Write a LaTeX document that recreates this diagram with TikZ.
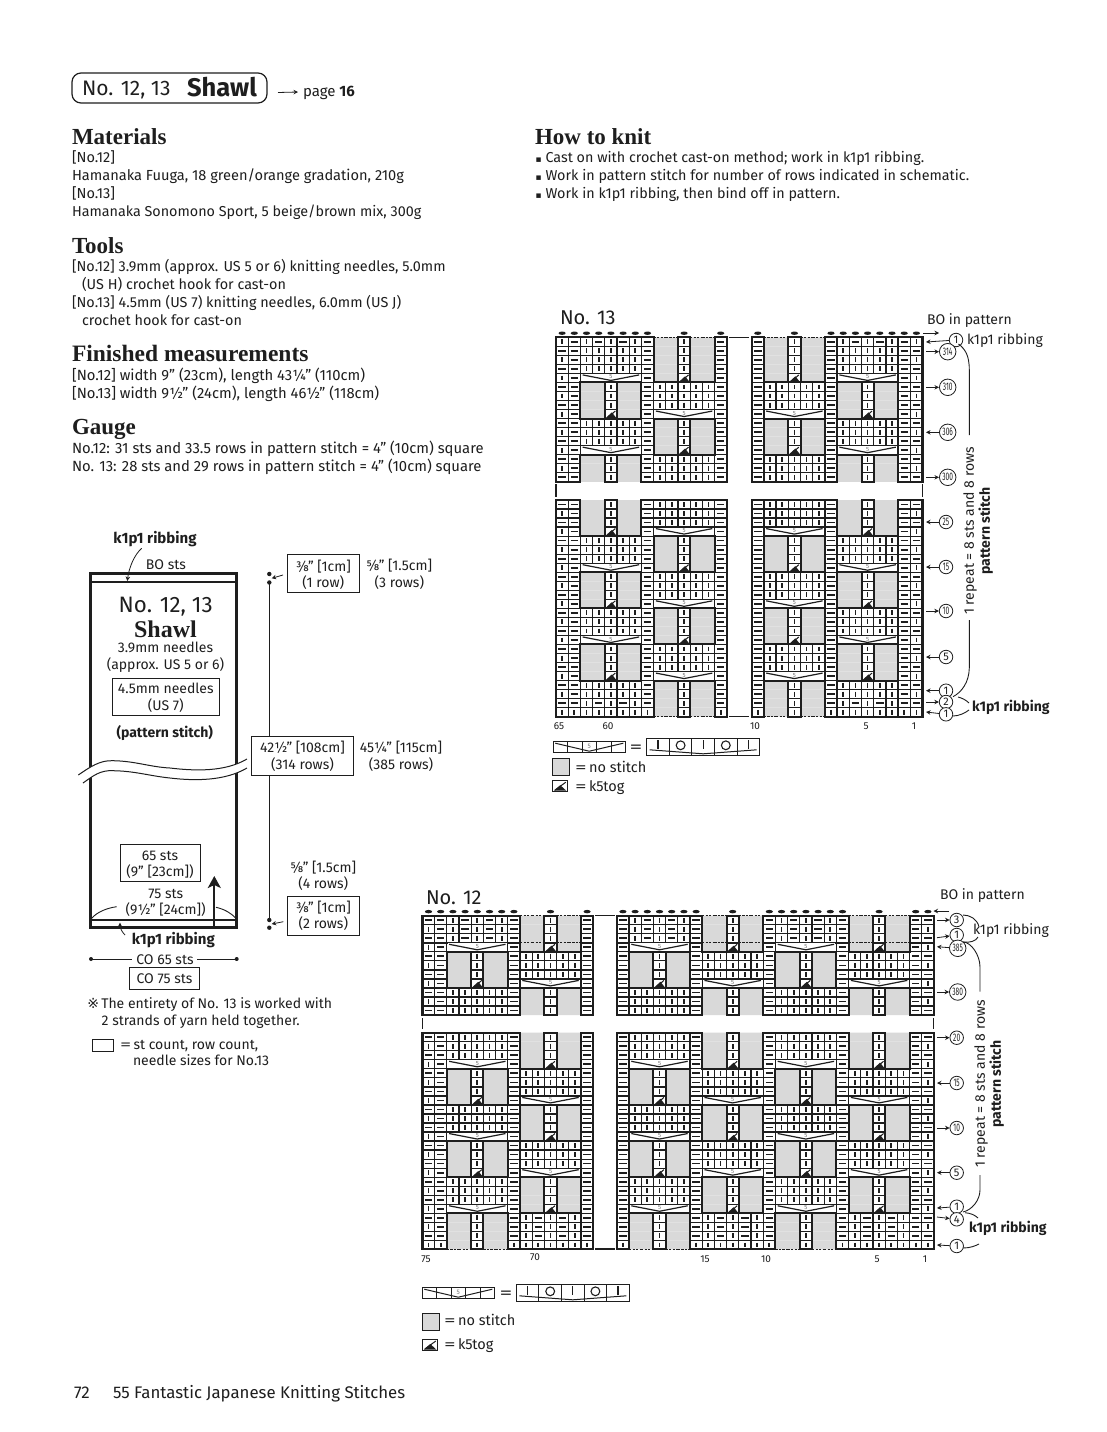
\documentclass[tikz,border=0pt]{standalone}
\usepackage{fontspec}
\usepackage{graphicx}
\usetikzlibrary{arrows.meta}
\setmainfont{Fira Sans}
\newfontfamily\hdf{Liberation Serif}
\newfontfamily\symf{DejaVu Sans}
\definecolor{ink}{HTML}{1E1E1E}
\definecolor{kgray}{HTML}{D9D9D9}
\definecolor{fivegray}{HTML}{777777}
% ---------- chart engine ----------
\newdimen\cxd \newdimen\cyd \newdimen\stW \newdimen\stH
\newcount\rowc
\newif\ifkT \newif\ifkB
\def\WA{12.2}\def\WH{6.1}\def\WB{24.4}\def\WC{36.6}\def\WV{61}\def\WM{30.5}\def\HA{9.03}
\stW=12.2pt \stH=9.03pt
\def\PT#1#2{\pgfqpoint{\dimexpr\cxd+#1pt\relax}{\dimexpr\cyd-#2pt\relax}}
\def\Mv#1#2{\pgfpathmoveto{\PT{#1}{#2}}}
\def\Lt#1#2{\pgfpathlineto{\PT{#1}{#2}}}
\def\Rct{\Mv{0}{0}\Lt{\WA}{0}\Lt{\WA}{\HA}\Lt{0}{\HA}\pgfpathclose}
\def\cI{\doI\advance\cxd by\stW}
\def\cm{\dom\advance\cxd by\stW}
\def\cg{\dog\advance\cxd by\stW}
\def\ck{\dok\advance\cxd by\stW}
\def\cd{\advance\cxd by\stW}
\def\cS{\cI\cI\cI\cI\cI}
\def\cR{\cI\cm\cI\cm\cI}
\def\cG{\doUG\cg\cg\cI\cg\cg}
\def\cK{\doUK\cg\cg\ck\cg\cg}
\def\cD{\doUD\cd\cd\cd\cd\cd}
\def\parseR#1{\ifx#1\relax\else\csname c#1\endcsname\expandafter\parseR\fi}
\def\Rw#1{\cxd=\kxv pt\relax \kTfalse\kBfalse
  \ifnum\rowc=0 \kTtrue\fi
  \ifnum\rowc=\kdC\relax\kTtrue\fi
  \ifnum\rowc=\kLast\relax\kBtrue\fi
  \parseR#1\relax \kUse
  \advance\cyd by-\stH \advance\rowc by1 }
\def\LF#1#2{\Rw{mm#1}\Rw{Im#1}\Rw{mm#1}\Rw{Im#2}}
\def\RF#1#2{\Rw{#1mm}\Rw{#1mI}\Rw{#1mm}\Rw{#2mI}}
\def\kNone{\let\doI\relax\let\dom\relax\let\dog\relax\let\dok\relax
  \let\doUG\relax\let\doUK\relax\let\doUD\relax}
\def\kVerts{\Mv{0}{0}\Lt{0}{\HA}\Mv{\WB}{0}\Lt{\WB}{\HA}\Mv{\WC}{0}\Lt{\WC}{\HA}\Mv{\WV}{0}\Lt{\WV}{\HA}}
\def\kEdgeLines{\ifkT\Mv{0}{0}\Lt{\WA}{0}\fi\ifkB\Mv{0}{\HA}\Lt{\WA}{\HA}\fi}
\def\kRun{\rowc=0 \cyd=-\kyv pt\relax \krows}
\newcommand\KBlock[8]{%
  \def\kxv{#1}\def\kyv{#2}\edef\kLast{\the\numexpr#4-1\relax}%
  \def\kdA{#5}\def\kdB{#6}\def\kdC{#7}\def\krows{#8}%
  % gray
  \begin{pgfscope}\kNone\pgfsetfillcolor{kgray}\let\dog\Rct\def\kUse{\pgfusepath{fill}}\kRun\end{pgfscope}%
  % dashed edges of gray
  \begin{pgfscope}\kNone\pgfsetlinewidth{1.1pt}\pgfsetdash{{2.2pt}{1.3pt}}{0pt}%
    \def\dog{\ifnum\rowc=\kdA\relax\Mv{0}{0}\Lt{\WA}{0}\fi\ifnum\rowc=\kdC\relax\Mv{0}{0}\Lt{\WA}{0}\fi\ifnum\rowc=\kdB\relax\Mv{0}{\HA}\Lt{\WA}{\HA}\fi}%
    \def\kUse{\pgfusepath{stroke}}\kRun\end{pgfscope}%
  % grid
  \begin{pgfscope}\kNone\pgfsetlinewidth{1.25pt}\let\doI\Rct\let\dom\Rct\let\dok\Rct\def\kUse{\pgfusepath{stroke}}\kRun\end{pgfscope}%
  % marks
  \begin{pgfscope}\kNone\pgfsetlinewidth{1.7pt}%
    \def\doI{\Mv{\WH}{2.1}\Lt{\WH}{7}}\def\dom{\Mv{2.4}{4.5}\Lt{9.8}{4.5}}%
    \def\kUse{\pgfusepath{stroke}}\kRun\end{pgfscope}%
  % k5tog
  \begin{pgfscope}\kNone\pgfsetlinewidth{1pt}%
    \def\dok{\Mv{1.5}{8.6}\Lt{7}{3.6}\Lt{11}{8.6}\pgfpathclose\Mv{2.5}{8.5}\Lt{10.5}{1.5}}%
    \def\kUse{\pgfusepath{fill,stroke}}\kRun\end{pgfscope}%
  % thick
  \begin{pgfscope}\kNone\pgfsetlinewidth{2pt}\pgfsetrectcap
    \let\doI\kEdgeLines\let\dom\kEdgeLines\let\dok\kEdgeLines
    \let\doUG\kVerts\def\doUK{\kVerts\Mv{0}{\HA}\Lt{\WV}{\HA}}\def\doUD{\Mv{0}{\HA}\Lt{\WV}{\HA}}%
    \def\kUse{\pgfusepath{stroke}}\kRun
  \end{pgfscope}%
  % decrease
  \begin{pgfscope}\kNone\pgfsetlinewidth{1.2pt}\let\kUse\relax
    \def\doUD{\Mv{2.3}{1.5}\Lt{\WM}{7}\Lt{58.7}{1.5}\pgfusepath{stroke}%
      \pgftext[at={\PT{\WM}{3.6}}]{\color{fivegray}\fontsize{6}{6}\selectfont 5}}%
    \kRun\end{pgfscope}%
  % bind-off dots
  \begin{pgfscope}\kNone
    \def\kDot{\ifnum\rowc=\kdA\relax\ifnum\kdA=0 \pgfpathellipse{\PT{\WH}{-4.1}}{\pgfqpoint{3.6pt}{0pt}}{\pgfqpoint{0pt}{1.7pt}}\fi\fi}%
    \let\doI\kDot\let\dom\kDot\def\kUse{\pgfusepath{fill}}\kRun\end{pgfscope}%
  % outer sides
  \KSides{#1}{#2}{#3}{#4}}
\newcommand\KSides[4]{\begin{scope}[line width=2.4]
  \draw ({#1},{#2}) -- ({#1},{#2+#4*9.03});
  \draw ({#1+#3*12.2},{#2}) -- ({#1+#3*12.2},{#2+#4*9.03});\end{scope}}
% ---------- helpers ----------
\tikzset{
  tx/.style={inner sep=0pt,outer sep=0pt,font=\fontsize{#1}{#1}\selectfont,text height={0.7*#1pt},text depth=0pt},
  tipar/.style={-{Stealth[length=4.5pt,width=4.5pt]},line width=.8},
  rcn/.style={draw,circle,inner sep=0pt,minimum size=13.5pt,line width=.8,font=\fontsize{11}{11}\selectfont,fill=white},
  rcw/.style={rcn,minimum size=16.5pt},
  boxl/.style={line width=1},
  thinl/.style={line width=.9}
}
\newcommand\TL[4]{\node[tx=#1,anchor=west] (#2) at (#3) {#4};}
\newcommand\TC[4]{\node[tx=#1] (#2) at (#3) {#4};}
\newcommand\Squash[1]{\scalebox{.6}[1]{#1}}
\newcommand\WideEq{\scalebox{1.6}[1]{=}}
\newcommand\Bul{\makebox[10pt][l]{\symf\fontsize{9}{9}\selectfont ▪}}
\newcommand\RowOut[5][rcn]{\node[#1] (#2) at (#3) {#4}; \coordinate (#2e) at (#5); \draw[tipar] (#2e) -- (#2);}
\newcommand\RowIn[5][rcn]{\node[#1] (#2) at (#3) {#4}; \coordinate (#2e) at (#5); \draw[tipar] (#2) -- (#2e);}
\newcommand\DecLegend[2]{\begin{scope}[shift={(#1)}]
  \draw[boxl] (0,0) rectangle (72,11);
  \foreach \k in {14.4,28.8,43.2,57.6} \draw[line width=.8] (\k,0) -- (\k,11);
  \draw[line width=1] (2,1.5) -- (36,9.5) -- (70,1.5);
  \node[inner sep=0pt,font=\fontsize{6.5}{6.5}\selectfont,text=fivegray] (#2) at (36,5) {5};
\end{scope}}
\newcommand\StitchBox[2]{\begin{scope}[shift={(#1)}]
  \draw[boxl] (0,0) rectangle (113,17);
  \foreach \k in {22.6,45.2,67.8,90.4} \draw[line width=1] (\k,0) -- (\k,17);
  \foreach \k in {11.3,56.5,101.7} \draw[line width=1.1] (\k,2) -- (\k,#2);
  \foreach \k in {33.9,79.1} \draw[line width=1.1] (\k,7) circle (4.4);
  \draw[line width=1] (3,11.5) -- (56.5,15.5) -- (110,11.5);
\end{scope}}
\newcommand\GrayLegend[1]{\draw[boxl,fill=kgray] (#1) rectangle +(16.7,16.7);}
\newcommand\KLegend[1]{\begin{scope}[shift={(#1)}]
  \draw[boxl] (0,0) rectangle (15.5,11);
  \fill (1.5,10) -- (8,4.5) -- (14,10) -- cycle;
  \draw[line width=1] (2.5,9.5) -- (13.5,1.5);
\end{scope}}
\begin{document}
\begin{tikzpicture}[x=1pt,y=-1pt,color=ink]
\useasboundingbox (0,0) rectangle (1107,1432);
\fill[white] (0,0) rectangle (1107,1432);
% ---------- header ----------
\draw[rounded corners=9,line width=1.2] (72,73) rectangle (267,103);
\TL{21}{hA}{82,88}{No. 12, 13}
\TL{25.5}{hB}{187,87.5}{\bfseries Shawl}
\coordinate (hC) at (278,92.5); \coordinate (hD) at (298,92);
\draw[tipar] (hC) -- (hD);
\TL{15}{hE}{303,91}{page \textbf{16}}
% ---------- left text ----------
\TL{23}{m0}{72,136.5}{\hdf\bfseries Materials}
\TL{14.5}{m1}{72,157.5}{[No.12]}
\TL{14.6}{m2}{72,175.5}{Hamanaka Fuuga, 18 green/orange gradation, 210g}
\TL{14.5}{m3}{72,193.5}{[No.13]}
\TL{14.35}{m4}{72,211.5}{Hamanaka Sonomono Sport, 5 beige/brown mix, 300g}
\TL{23}{t0}{72,245.5}{\hdf\bfseries Tools}
\TL{14.4}{t1}{72,266}{[No.12] 3.9mm (approx. US 5 or 6) knitting needles, 5.0mm}
\TL{14.4}{t2}{82,284}{(US H) crochet hook for cast-on}
\TL{14.4}{t3}{72,302}{[No.13] 4.5mm (US 7) knitting needles, 6.0mm (US J)}
\TL{14.4}{t4}{82,320}{crochet hook for cast-on}
\TL{23.5}{f0}{72,353.5}{\hdf\bfseries Finished measurements}
\TL{14.8}{f1}{72,375}{[No.12] width 9" (23cm), length 43¼" (110cm)}
\TL{14.8}{f2}{72,393}{[No.13] width 9½" (24cm), length 46½" (118cm)}
\TL{23}{g0}{72,426.5}{\hdf\bfseries Gauge}
\TL{14.8}{g1}{72,448}{No.12: 31 sts and 33.5 rows in pattern stitch = 4" (10cm) square}
\TL{14.8}{g2}{72,466}{No. 13: 28 sts and 29 rows in pattern stitch = 4" (10cm) square}
\TL{23}{h0}{535,136.5}{\hdf\bfseries How to knit}
\TL{14.35}{h1}{535.5,157}{\Bul Cast on with crochet cast-on method; work in k1p1 ribbing.}
\TL{14.35}{h2}{535.5,175}{\Bul Work in pattern stitch for number of rows indicated in schematic.}
\TL{14.35}{h3}{535.5,193}{\Bul Work in k1p1 ribbing, then bind off in pattern.}
% ---------- schematic ----------
\draw[line width=1] (269.3,582) -- (269.3,920);
\foreach \nm/\py in {da/574,db/582.5,dc/920,dd/927.7} \fill (269.3,\py) circle (2.2);
\draw[line width=3] (90.7,573.3) -- (236.7,573.3);
\draw[line width=3] (90.7,927.7) -- (236.7,927.7);
\draw[line width=3] (90.7,572) -- (90.7,929);
\draw[line width=3] (236.7,572) -- (236.7,929);
\draw[line width=2] (90.7,581.7) -- (236.7,581.7);
\draw[line width=2] (90.7,920) -- (236.7,920);
\fill[white] (78.3,775) .. controls (90,767) and (100,760) .. (113,760.7) .. controls (135,761) and (150,767) .. (170,768) .. controls (195,771) and (225,772) .. (247,759)
  -- (247,768) .. controls (225,781) and (195,781) .. (170,778) .. controls (150,776) and (135,771) .. (113,770.7) .. controls (100,770) and (93,776) .. (83,783) -- cycle;
\draw[line width=1] (78.3,775) .. controls (90,767) and (100,760) .. (113,760.7) .. controls (135,761) and (150,767) .. (170,768) .. controls (195,771) and (225,772) .. (247,759);
\draw[line width=1] (83,783) .. controls (93,776) and (100,770) .. (113,770.7) .. controls (135,771) and (150,776) .. (170,778) .. controls (195,781) and (225,781) .. (247,768);
\TC{15}{sa}{155,538.7}{\bfseries k1p1 ribbing}
\TC{14}{sb}{166,564.7}{BO sts}
\coordinate (sc) at (141.7,548.3); \coordinate (sd) at (127.3,581);
\draw[tipar] (sc) .. controls (134,555) and (129,568) .. (sd);
\TC{22.3}{se}{165.7,605}{No. 12, 13}
\TC{24}{sf}{165.5,629}{\hdf\bfseries Shawl}
\TC{14}{sg}{165.5,648}{3.9mm needles}
\TC{14}{sh}{165.5,664.5}{(approx. US 5 or 6)}
\draw[boxl] (112.3,678.7) rectangle (219.3,715.3);
\TC{14}{si}{165.8,689}{4.5mm needles}
\TC{14}{sj}{165.8,705.5}{(US 7)}
\TC{14}{sk}{164.7,733}{\bfseries (pattern stitch)}
\draw[boxl,fill=white] (287.7,554) rectangle (359,592.7);
\TC{14}{la}{323.3,566.7}{⅜" [1cm]}
\TC{14}{lb}{323.3,582.7}{(1 row)}
\TC{14}{lc}{399.3,566}{⅝" [1.5cm]}
\TC{14}{ld}{399.3,583}{(3 rows)}
\coordinate (le) at (283,575); \coordinate (lf) at (271.7,578.3);
\draw[tipar] (le) -- (lf);
\draw[boxl,fill=white] (251.7,736.7) rectangle (353.3,775);
\TC{14}{na}{302.5,748}{42½" [108cm]}
\TC{14}{nb}{302.5,764.7}{(314 rows)}
\TC{14}{nc}{401,748}{45¼" [115cm]}
\TC{14}{nd}{401,764.7}{(385 rows)}
\TC{14}{oa}{323.3,867.7}{⅝" [1.5cm]}
\TC{14}{ob}{323.3,884}{(4 rows)}
\draw[boxl,fill=white] (287.7,896) rectangle (359,935);
\TC{14}{oc}{323.3,908}{⅜" [1cm]}
\TC{14}{od}{323.3,924}{(2 rows)}
\coordinate (oe) at (283.3,921.7); \coordinate (of) at (271.7,924);
\draw[tipar] (oe) -- (of);
\draw[boxl] (120.3,844) rectangle (200,881.7);
\TC{14}{pa}{160,855.7}{65 sts}
\TC{14}{pb}{160,871.7}{(9" [23cm])}
\TC{14}{pc}{165.7,893.7}{75 sts}
\TC{14}{pd}{165.7,910}{(9½" [24cm])}
\draw[thinl] (91.7,918.3) .. controls (97,912) and (107,908) .. (116.7,906.7);
\draw[thinl] (216,907.3) .. controls (224,909) and (231,913) .. (235.7,918);
\coordinate (pe) at (214.3,926.7); \coordinate (pf) at (214.3,876);
\draw[line width=2.2,-{Stealth[length=12pt,width=13pt,inset=3pt]}] (pe) -- (pf);
\TC{15}{pg}{173.3,939.3}{\bfseries k1p1 ribbing}
\coordinate (ph) at (125,935); \coordinate (pi) at (120,922.7);
\draw[tipar] (ph) .. controls (122,932) and (120,928) .. (pi);
\TC{14}{ca}{165,959.3}{CO 65 sts}
\coordinate (cb) at (91,959); \coordinate (cc) at (131.7,959); \coordinate (cd) at (197.3,959); \coordinate (ce) at (236.7,959);
\draw[thinl] (cb) -- (cc); \draw[thinl] (cd) -- (ce);
\fill (cb) circle (2); \fill (ce) circle (2);
\draw[boxl] (129.3,967.7) rectangle (199.3,989.3);
\TC{14}{cf}{164.5,979}{CO 75 sts}
\TL{14}{qa}{87.3,1004}{\makebox[14pt][l]{\symf\fontsize{14}{14}\selectfont ※}The entirety of No. 13 is worked with}
\TL{14}{qb}{101.7,1021}{2 strands of yarn held together.}
\draw[boxl] (92.3,1039.3) rectangle (113.3,1051);
\TL{14}{qc}{120,1045}{\WideEq\,st count, row count,}
\TL{14}{qd}{133,1061}{needle sizes for No.13}
\TL{17}{fa}{74,1392.5}{72}
\TL{16.8}{fb}{113,1392.5}{55 Fantastic Japanese Knitting Stitches}
% ---------- No. 13 chart ----------
\TL{20}{na13}{560,317}{No. 13}
\KBlock{556}{337.3}{14}{16}{0}{-1}{-1}{%
  \Rw{ImRmGm}\Rw{mmSmGm}\Rw{ImSmGm}\Rw{mmSmGm}\Rw{ImDmKm}%
  \LF{GmSm}{KmDm}\LF{SmGm}{DmKm}\Rw{mmGmSm}\Rw{ImGmSm}\Rw{mmGmSm}}
\KBlock{751.7}{337.3}{14}{16}{0}{-1}{-1}{%
  \Rw{mGmRmI}\Rw{mGmSmm}\Rw{mGmSmI}\Rw{mGmSmm}\Rw{mKmDmI}%
  \RF{mSmG}{mDmK}\RF{mGmS}{mKmD}\Rw{mSmGmm}\Rw{mSmGmI}\Rw{mSmGmm}}
\KBlock{556}{500}{14}{24}{-1}{23}{-1}{%
  \LF{GmSm}{KmDm}\LF{SmGm}{DmKm}\LF{GmSm}{KmDm}\LF{SmGm}{DmKm}\LF{GmSm}{KmDm}%
  \Rw{mmSmGm}\Rw{ImSmGm}\Rw{mmRmGm}\Rw{IISIGI}}
\KBlock{751.7}{500}{14}{24}{-1}{23}{-1}{%
  \RF{mSmG}{mDmK}\RF{mGmS}{mKmD}\RF{mSmG}{mDmK}\RF{mGmS}{mKmD}\RF{mSmG}{mDmK}%
  \Rw{mGmSmm}\Rw{mGmSmI}\Rw{mGmRmm}\Rw{IGISII}}
\coordinate (g13a) at (729,337.5); \coordinate (g13b) at (749,337.5);
\coordinate (g13c) at (729,716.3); \coordinate (g13d) at (749,716.3);
\draw[line width=1.2] (g13a) -- (g13b); \draw[line width=1.2] (g13c) -- (g13d);
\coordinate (g13e) at (556,484); \coordinate (g13f) at (556,497);
\coordinate (g13g) at (922.3,484); \coordinate (g13h) at (922.3,497);
\draw[line width=1.2] (g13e) -- (g13f); \draw[line width=1.2] (g13g) -- (g13h);
\TC{10}{x65}{559,725.5}{65} \TC{10}{x60}{608,725.5}{60} \TC{10}{x10}{755,725.5}{10} \TC{10}{x5}{866,725.5}{5} \TC{10}{x1}{914,725.5}{1}
\TL{14}{bo13}{927,319.5}{BO in pattern}
\coordinate (bo13a) at (923,333); \coordinate (bo13b) at (939,333);
\draw[tipar] (bo13a) -- (bo13b);
\RowIn{c13a}{956,340}{1}{926,342}
\TL{14}{k13a}{967,340}{k1p1 ribbing}
\RowOut[rcw]{c13b}{947.7,351.7}{\Squash{314}}{926,351.7}
\RowOut[rcw]{c13c}{947.7,387.3}{\Squash{310}}{926,387.3}
\RowIn[rcw]{c13d}{947.7,432.3}{\Squash{306}}{926,432.3}
\RowOut[rcw]{c13e}{947.7,477.3}{\Squash{300}}{926,477.3}
\RowIn{c13f}{946,522}{\Squash{25}}{926,522}
\RowIn{c13g}{946,567}{\Squash{15}}{926,567}
\RowOut{c13h}{946,611}{\Squash{10}}{926,611}
\RowIn{c13i}{946,657}{5}{926,657}
\RowIn{c13j}{946,690.7}{1}{926,690.7}
\RowOut{c13k}{946,702}{2}{926,702}
\RowIn{c13l}{946,714.3}{1}{926,712}
\node[tx=14,rotate=90] (rep13) at (969,531) {1 repeat = 8 sts and 8 rows};
\node[tx=14,rotate=90] (pat13) at (985,531) {\bfseries pattern stitch};
\coordinate (r13u) at (969.3,435); \coordinate (r13l) at (969.3,620);
\draw[thinl] (958.5,344) .. controls (965,349) and (969.3,355) .. (969.3,370) -- (r13u);
\draw[thinl] (r13l) -- (969.3,668) .. controls (969,682) and (962,692) .. (953,696.7);
\coordinate (r13a) at (958,697); \coordinate (r13b) at (969,703); \coordinate (r13c) at (953,716); \coordinate (r13d) at (969,710);
\draw[thinl] (r13a) .. controls (962,698) and (966,700) .. (r13b);
\draw[thinl] (r13c) .. controls (959,716) and (965,713) .. (r13d);
\TL{14}{k13b}{972,707}{\bfseries k1p1 ribbing}
\DecLegend{553.3,741.7}{ld13}
\TC{16}{leq13}{636,747}{\WideEq}
\StitchBox{646.7,738.3}{11}
\GrayLegend{552.3,758.3}
\TL{14.5}{ln13}{575,767}{\WideEq\,no stitch}
\KLegend{552.3,780.7}
\TL{14.5}{lk13}{575,786}{\WideEq\,k5tog}
% ---------- No. 12 chart ----------
\TL{20}{na12}{426,897.5}{No. 12}
\KBlock{422.4}{915.7}{14}{11}{0}{-1}{3}{%
  \Rw{mmRmGm}\Rw{ImRmGm}\Rw{mmRmGm}\Rw{ImDmKm}\LF{GmSm}{KmDm}\Rw{mmSmGm}\Rw{ImSmGm}\Rw{mmSmGm}}
\KBlock{616.8}{915.7}{26}{11}{0}{-1}{3}{%
  \Rw{mRmGmRmGmm}\Rw{mRmGmRmGmI}\Rw{mRmGmRmGmm}\Rw{mDmKmDmKmI}\RF{mGmSmGmS}{mKmDmKmD}%
  \Rw{mSmGmSmGmm}\Rw{mSmGmSmGmI}\Rw{mSmGmSmGmm}}
\KBlock{422.4}{1032.7}{14}{24}{-1}{23}{-1}{%
  \LF{SmGm}{DmKm}\LF{GmSm}{KmDm}\LF{SmGm}{DmKm}\LF{GmSm}{KmDm}\LF{SmGm}{DmKm}%
  \Rw{mmGmRm}\Rw{ImGmRm}\Rw{mmGmRm}\Rw{IIGISI}}
\KBlock{616.8}{1032.7}{26}{24}{-1}{23}{-1}{%
  \RF{mSmGmSmG}{mDmKmDmK}\RF{mGmSmGmS}{mKmDmKmD}\RF{mSmGmSmG}{mDmKmDmK}\RF{mGmSmGmS}{mKmDmKmD}\RF{mSmGmSmG}{mDmKmDmK}%
  \Rw{mGmRmGmRmm}\Rw{mGmRmGmRmI}\Rw{mGmRmGmRmm}\Rw{IGISIGISII}}
\coordinate (g12a) at (595,915.5); \coordinate (g12b) at (615,915.5);
\coordinate (g12c) at (595,1249); \coordinate (g12d) at (615,1249);
\draw[line width=1.2] (g12a) -- (g12b); \draw[line width=1.2] (g12c) -- (g12d);
\coordinate (g12e) at (422.4,1018); \coordinate (g12f) at (422.4,1029);
\coordinate (g12g) at (933.5,1018); \coordinate (g12h) at (933.5,1029);
\draw[line width=1.2] (g12e) -- (g12f); \draw[line width=1.2] (g12g) -- (g12h);
\TC{10}{y75}{426,1259}{75} \TC{10}{y70}{535,1256.5}{70} \TC{10}{y15}{705,1258.5}{15} \TC{10}{y10}{766,1258.5}{10} \TC{10}{y5}{877,1258.5}{5} \TC{10}{y1}{925,1258.5}{1}
\TL{14}{bo12}{940,894.5}{BO in pattern}
\coordinate (bo12a) at (949,911); \coordinate (bo12b) at (933.5,911);
\draw[tipar] (bo12a) -- (bo12b);
\RowOut{c12a}{956.7,920}{3}{937,920}
\RowOut{c12b}{956.7,935}{1}{937,937.7}
\RowIn[rcw]{c12c}{957.7,948.3}{\Squash{385}}{937,946.7}
\RowOut[rcw]{c12d}{957.7,992}{\Squash{380}}{937,992}
\RowOut{c12e}{956.7,1037.7}{\Squash{20}}{937,1037.7}
\RowIn{c12f}{956.7,1083}{\Squash{15}}{937,1083}
\RowOut{c12g}{956.7,1128}{\Squash{10}}{937,1128}
\RowIn{c12h}{956.7,1172.7}{5}{937,1172.7}
\RowIn{c12i}{956.7,1206.7}{1}{937,1208}
\RowOut{c12j}{956.7,1219.3}{4}{937,1217}
\RowIn{c12k}{956.7,1246}{1}{937,1245}
\TL{14}{k12a}{973,929.5}{k1p1 ribbing}
\TL{14}{k12b}{969,1227.7}{\bfseries k1p1 ribbing}
\node[tx=14,rotate=90] (rep12) at (980,1084) {1 repeat = 8 sts and 8 rows};
\node[tx=14,rotate=90] (pat12) at (996,1084) {\bfseries pattern stitch};
\coordinate (r12u) at (980,991.7); \coordinate (r12l) at (980,1175);
\draw[thinl] (963,942) .. controls (971,942) and (980,955) .. (980,967) -- (r12u);
\draw[thinl] (r12l) -- (980,1190) .. controls (980,1200) and (972,1210) .. (963,1212);
\draw[thinl] (965,1212.7) .. controls (970,1213) and (975,1215) .. (978,1218);
\draw[thinl] (963,1248) .. controls (970,1248) and (975,1246) .. (979,1244);
\draw[thinl] (963,915) .. controls (970,915) and (977,919) .. (979,926.7);
\draw[thinl] (963,942) .. controls (970,943) and (976,941) .. (978,937);
\DecLegend{422.3,1287.7}{ld12}
\TC{16}{leq12}{506,1293}{\WideEq}
\StitchBox{516.3,1284.3}{11}
\GrayLegend{422.3,1313.3}
\TL{14.5}{ln12}{444,1320}{\WideEq\,no stitch}
\KLegend{422.3,1339.5}
\TL{14.5}{lk12}{444,1344}{\WideEq\,k5tog}
\end{tikzpicture}
\end{document}
